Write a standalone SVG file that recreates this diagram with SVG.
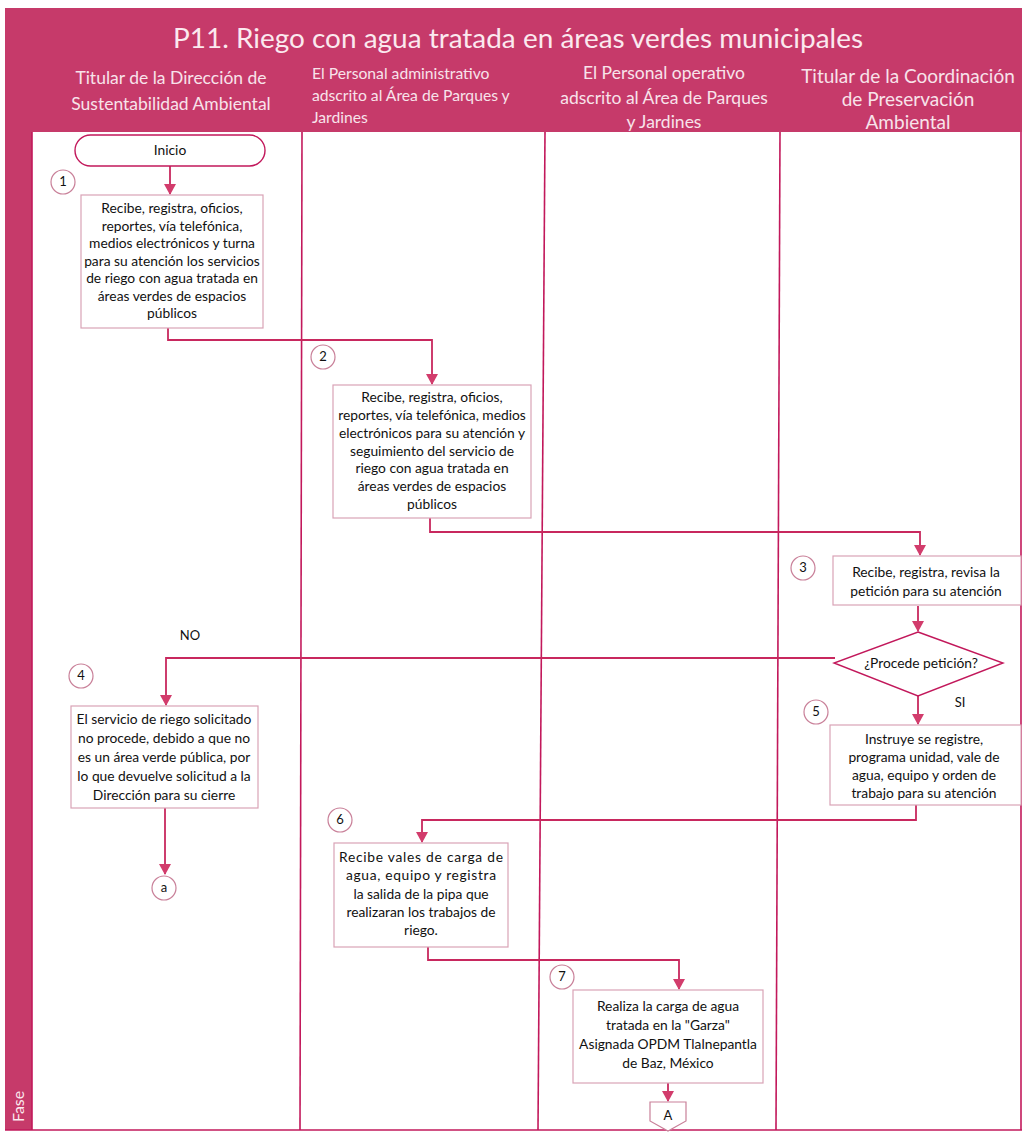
<svg xmlns="http://www.w3.org/2000/svg" width="1022" height="1139" viewBox="0 0 1022 1139">
<defs>
<marker id="arr" markerWidth="12" markerHeight="12" refX="10" refY="6" orient="auto" markerUnits="userSpaceOnUse">
<path d="M0,0 L11,6 L0,12 Z" fill="#d23c6c"/>
</marker>
<style>
.band{fill:#c63a6a}
.lane{stroke:#c2185b;stroke-width:1.6;fill:none}
.box{fill:#fff;stroke:#d9a3b6;stroke-width:1.2}
.num{fill:#fff;stroke:#c98099;stroke-width:1.2}
.conn{stroke:#c8285e;stroke-width:1.8;fill:none}
.t{font-family:Lato,"Liberation Sans",sans-serif;font-size:13.8px;fill:#111;text-anchor:middle}
.h{font-family:Lato,"Liberation Sans",sans-serif;font-size:17.5px;fill:#f8e3ea;text-anchor:middle}
.lbl{font-family:Lato,"Liberation Sans",sans-serif;font-size:13px;fill:#111;text-anchor:middle}
</style>
</defs>
<rect width="1022" height="1139" fill="#fff"/>
<!-- frame -->
<rect class="band" x="5" y="8" width="1017" height="124"/>
<rect class="band" x="5" y="8" width="27" height="1122"/>
<rect x="32" y="132" width="990" height="998" fill="#fff"/>
<line class="lane" x1="32" y1="132" x2="32" y2="1130"/>
<line class="lane" x1="302" y1="132" x2="300" y2="1130"/>
<line class="lane" x1="545" y1="132" x2="538" y2="1130"/>
<line class="lane" x1="780" y1="132" x2="776" y2="1130"/>
<line class="lane" x1="1021" y1="132" x2="1021" y2="1130"/>
<line class="lane" x1="5" y1="1130" x2="1022" y2="1130"/>
<text x="518" y="48" font-family="Lato,'Liberation Sans',sans-serif" font-size="27" fill="#fbe9ef" text-anchor="middle" textLength="690" lengthAdjust="spacingAndGlyphs">P11. Riego con agua tratada en áreas verdes municipales</text>
<g id="headers">
<text class="h" x="171" y="84">Titular de la Dirección de</text>
<text class="h" x="171" y="110">Sustentabilidad Ambiental</text>
<text class="h" x="312" y="79" style="text-anchor:start;font-size:15.7px">El Personal administrativo</text>
<text class="h" x="312" y="101" style="text-anchor:start;font-size:15.7px">adscrito al Área de Parques y</text>
<text class="h" x="312" y="123" style="text-anchor:start;font-size:15.7px">Jardines</text>
<text class="h" x="664" y="79">El Personal operativo</text>
<text class="h" x="664" y="104">adscrito al Área de Parques</text>
<text class="h" x="664" y="128">y Jardines</text>
<text class="h" x="908" y="83" style="font-size:19px">Titular de la Coordinación</text>
<text class="h" x="908" y="106" style="font-size:19px">de Preservación</text>
<text class="h" x="908" y="129" style="font-size:19px">Ambiental</text>
</g>
<text x="24" y="1122" transform="rotate(-90 24 1122)" font-family="Lato,'Liberation Sans',sans-serif" font-size="16" fill="#fbe9ef">Fase</text>

<g id="connectors">
<line class="conn" x1="170" y1="166" x2="170" y2="194" marker-end="url(#arr)"/>
<polyline class="conn" points="168,328 168,340 432,340 432,384" marker-end="url(#arr)"/>
<polyline class="conn" points="430,518 430,532 920,532 920,555" marker-end="url(#arr)"/>
<line class="conn" x1="918" y1="606" x2="918" y2="631" marker-end="url(#arr)"/>
<polyline class="conn" points="835,658 166,658 166,705" marker-end="url(#arr)"/>
<line class="conn" x1="918" y1="696" x2="918" y2="724" marker-end="url(#arr)"/>
<line class="conn" x1="165" y1="808" x2="165" y2="874" marker-end="url(#arr)"/>
<polyline class="conn" points="916,805 916,820 422,820 422,842" marker-end="url(#arr)"/>
<polyline class="conn" points="428,947 428,960 679,960 679,989" marker-end="url(#arr)"/>
<line class="conn" x1="668" y1="1083" x2="668" y2="1101" marker-end="url(#arr)"/>
</g>

<g id="inicio">
<rect x="75" y="135" width="190" height="31" rx="15.5" fill="#fff" stroke="#c2185b" stroke-width="1.4"/>
<text class="t" x="170" y="155">Inicio</text>
</g>
<g id="n1">
<circle class="num" cx="63" cy="182" r="12"/>
<text class="lbl" x="63" y="186">1</text>
</g>
<g id="step1">
<rect class="box" x="81" y="195" width="182" height="133"/>
<text class="t" x="172" y="213">Recibe, registra, oficios,</text>
<text class="t" x="172" y="231">reportes, vía telefónica,</text>
<text class="t" x="172" y="248">medios electrónicos y turna</text>
<text class="t" x="172" y="266">para su atención los servicios</text>
<text class="t" x="172" y="283">de riego con agua tratada en</text>
<text class="t" x="172" y="301">áreas verdes de espacios</text>
<text class="t" x="172" y="318">públicos</text>
</g>
<g id="n2">
<circle class="num" cx="323" cy="357" r="12"/>
<text class="lbl" x="323" y="361">2</text>
</g>
<g id="step2">
<rect class="box" x="333" y="385" width="198" height="133"/>
<text class="t" x="432" y="402">Recibe, registra, oficios,</text>
<text class="t" x="432" y="420">reportes, vía telefónica, medios</text>
<text class="t" x="432" y="438">electrónicos para su atención y</text>
<text class="t" x="432" y="456">seguimiento del servicio de</text>
<text class="t" x="432" y="473">riego con agua tratada en</text>
<text class="t" x="432" y="491">áreas verdes de espacios</text>
<text class="t" x="432" y="509">públicos</text>
</g>
<g id="n3">
<circle class="num" cx="803" cy="568" r="12"/>
<text class="lbl" x="803" y="572">3</text>
</g>
<g id="step3">
<rect class="box" x="833" y="556" width="188" height="49"/>
<text class="t" x="926" y="577">Recibe, registra, revisa la</text>
<text class="t" x="926" y="596">petición para su atención</text>
</g>
<g id="decision">
<polygon points="918,632 1003,663 918,696 834,663" fill="#fff" stroke="#c2185b" stroke-width="1.4"/>
<text class="t" x="921" y="668">¿Procede petición?</text>
<text class="lbl" x="190" y="640">NO</text>
<text class="lbl" x="960" y="707">SI</text>
</g>
<g id="n4">
<circle class="num" cx="81" cy="676" r="12"/>
<text class="lbl" x="81" y="680">4</text>
</g>
<g id="step4">
<rect class="box" x="71" y="706" width="187" height="102"/>
<text class="t" x="164" y="724">El servicio de riego solicitado</text>
<text class="t" x="164" y="743">no procede, debido a que no</text>
<text class="t" x="164" y="762">es un  área verde pública, por</text>
<text class="t" x="164" y="781">lo que devuelve solicitud a la</text>
<text class="t" x="164" y="800">Dirección para su cierre</text>
</g>
<g id="conn_a">
<circle class="num" cx="164" cy="888" r="12"/>
<text class="lbl" x="164" y="892">a</text>
</g>
<g id="n5">
<circle class="num" cx="816" cy="712" r="12"/>
<text class="lbl" x="816" y="716">5</text>
</g>
<g id="step5">
<rect class="box" x="830" y="725" width="191" height="80"/>
<text class="t" x="924" y="744">Instruye se registre,</text>
<text class="t" x="924" y="762">programa unidad, vale de</text>
<text class="t" x="924" y="780">agua, equipo y orden de</text>
<text class="t" x="924" y="798">trabajo para su atención</text>
</g>
<g id="n6">
<circle class="num" cx="340" cy="820" r="12"/>
<text class="lbl" x="340" y="824">6</text>
</g>
<g id="step6">
<rect class="box" x="334" y="843" width="174" height="104"/>
<text class="t" x="421" y="862" textLength="164" lengthAdjust="spacing">Recibe vales de carga de</text>
<text class="t" x="421" y="880" textLength="150" lengthAdjust="spacing">agua, equipo y registra</text>
<text class="t" x="421" y="899">la salida de la pipa que</text>
<text class="t" x="421" y="917">realizaran los trabajos de</text>
<text class="t" x="421" y="935">riego.</text>
</g>
<g id="n7">
<circle class="num" cx="562" cy="977" r="12"/>
<text class="lbl" x="562" y="981">7</text>
</g>
<g id="step7">
<rect class="box" x="573" y="990" width="190" height="93"/>
<text class="t" x="668" y="1011">Realiza la carga de agua</text>
<text class="t" x="668" y="1030">tratada en la "Garza"</text>
<text class="t" x="668" y="1049">Asignada OPDM Tlalnepantla</text>
<text class="t" x="668" y="1068">de Baz, México</text>
</g>
<g id="offpage_A">
<polygon points="650,1102 686,1102 686,1121 668,1131 650,1121" fill="#fff" stroke="#c98099" stroke-width="1.2"/>
<text class="lbl" x="668" y="1120">A</text>
</g>
</svg>
